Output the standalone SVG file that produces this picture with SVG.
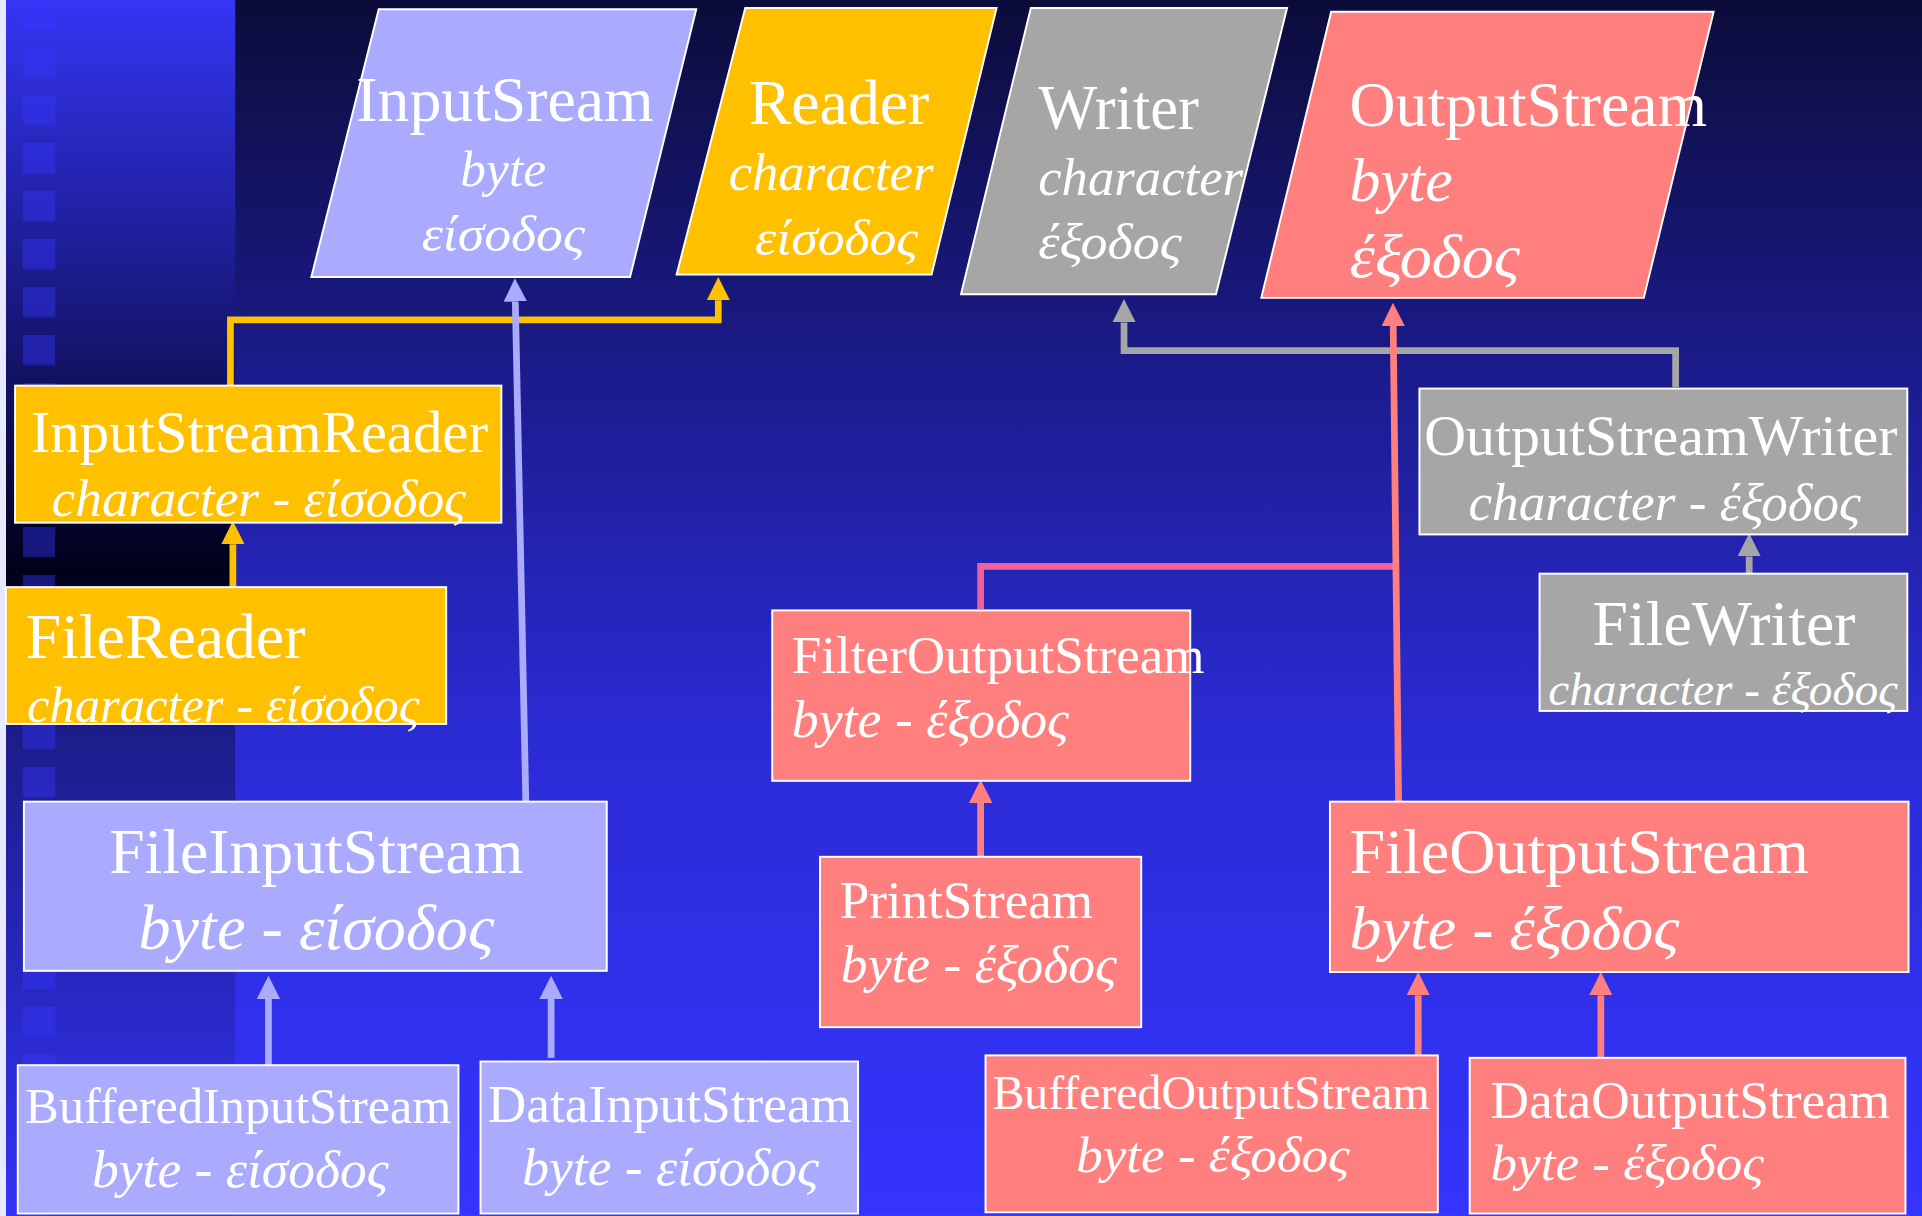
<svg xmlns="http://www.w3.org/2000/svg" width="1922" height="1216" viewBox="0 0 1922 1216">
<defs>
<linearGradient id="bgMain" x1="0" y1="0" x2="0" y2="1">
<stop offset="0" stop-color="#0c0c3a"/>
<stop offset="0.3" stop-color="#1b1b8a"/>
<stop offset="0.6" stop-color="#2b2bd4"/>
<stop offset="1" stop-color="#3434ff"/>
</linearGradient>
<linearGradient id="bgStrip" x1="0" y1="0" x2="0" y2="1">
<stop offset="0" stop-color="#3535f5"/>
<stop offset="0.47" stop-color="#00001a"/>
<stop offset="0.6" stop-color="#1c1c88"/>
<stop offset="1" stop-color="#3333f5"/>
</linearGradient>
<pattern id="sq" patternUnits="userSpaceOnUse" x="18.7" y="-0.8" width="26.3" height="39.16">
<rect x="0" y="0" width="26.3" height="24.5" fill="#3434ff" fill-opacity="0.42"/>
</pattern>
<marker id="aY" viewBox="0 0 19 19" refX="0" refY="9.5" markerWidth="19" markerHeight="19" markerUnits="userSpaceOnUse" orient="auto"><path d="M0,0 L19,9.5 L0,19 z" fill="#ffc000"/></marker>
<marker id="aL" viewBox="0 0 19 19" refX="0" refY="9.5" markerWidth="19" markerHeight="19" markerUnits="userSpaceOnUse" orient="auto"><path d="M0,0 L19,9.5 L0,19 z" fill="#aaaaff"/></marker>
<marker id="aG" viewBox="0 0 19 19" refX="0" refY="9.5" markerWidth="19" markerHeight="19" markerUnits="userSpaceOnUse" orient="auto"><path d="M0,0 L19,9.5 L0,19 z" fill="#a6a6a6"/></marker>
<marker id="aP" viewBox="0 0 19 19" refX="0" refY="9.5" markerWidth="19" markerHeight="19" markerUnits="userSpaceOnUse" orient="auto"><path d="M0,0 L19,9.5 L0,19 z" fill="#ff7f7f"/></marker>
</defs>
<style>
.t{font-family:"Liberation Serif","Times New Roman","DejaVu Serif",serif;fill:#ffffff}
.i{font-style:italic}
.m{text-anchor:middle}
.box{stroke:#ffffff;stroke-width:1.6}
.lav{fill:#aaaaff}
.yel{fill:#ffc000}
.gry{fill:#a6a6a6}
.pnk{fill:#ff7f7f}
.c{fill:none;stroke-width:5.5;stroke-linejoin:miter}
.cy{stroke:#ffc000}
.cl{stroke:#aaaaff}
.cg{stroke:#a6a6a6}
.cp{stroke:#ff7f7f}
.cm{stroke:#f0609a}
</style>
<g transform="scale(1.22577)">
<g id="background">
<rect x="0" y="0" width="1568" height="992" fill="url(#bgMain)"/>
<rect x="4.9" y="0" width="187" height="992" fill="url(#bgStrip)"/>
<rect x="18.7" y="0" width="26.3" height="992" fill="url(#sq)"/>
<rect x="0" y="0" width="4.9" height="992" fill="#e8e8ff"/>
</g>
<g id="connectors">
<path class="c cy" d="M188,315 L188,261 L586,261 L586,245" marker-end="url(#aY)"/>
<path class="c cy" d="M190,480 L190,444" marker-end="url(#aY)"/>
<path class="c cl" d="M429,655 L420.4,246" marker-end="url(#aL)"/>
<path class="c cl" d="M219,869 L219,815" marker-end="url(#aL)"/>
<path class="c cl" d="M449.6,863 L449.6,815" marker-end="url(#aL)"/>
<path class="c cg" d="M1367,316 L1367,286 L917,286 L917,263" marker-end="url(#aG)"/>
<path class="c cg" d="M1427,469 L1427,454" marker-end="url(#aG)"/>
<path class="c cm" d="M800,497 L800,462 L1138,462"/>
<path class="c cp" d="M1141,655 L1136.6,266" marker-end="url(#aP)"/>
<path class="c cp" d="M800,699 L800,655" marker-end="url(#aP)"/>
<path class="c cp" d="M1157,861 L1157,812" marker-end="url(#aP)"/>
<path class="c cp" d="M1306,863 L1306,812" marker-end="url(#aP)"/>
</g>
<g id="InputSream">
<polygon class="box lav" points="309,7.5 568,7.5 514,226 254,226"/>
<text class="t m" x="412" y="99" font-size="52">InputSream</text>
<text class="t i m" x="410.5" y="152" font-size="42">byte</text>
<text class="t i m" x="410.5" y="205" font-size="42" textLength="133" lengthAdjust="spacingAndGlyphs">είσοδος</text>
</g>
<g id="Reader">
<polygon class="box yel" points="608,6.5 813,6.5 760,224 552,224"/>
<text class="t m" x="684.5" y="101" font-size="52">Reader</text>
<text class="t i m" x="678" y="155" font-size="43">character</text>
<text class="t i m" x="682.5" y="208" font-size="42" textLength="133" lengthAdjust="spacingAndGlyphs">είσοδος</text>
</g>
<g id="Writer">
<polygon class="box gry" points="841,6.5 1050,6.5 992,240 784,240"/>
<text class="t" x="847" y="105" font-size="51">Writer</text>
<text class="t i" x="847" y="159" font-size="43">character</text>
<text class="t i" x="847" y="211" font-size="42" textLength="117" lengthAdjust="spacingAndGlyphs">έξοδος</text>
</g>
<g id="OutputStream">
<polygon class="box pnk" points="1086,9.5 1398,9.5 1341,243 1029,243"/>
<text class="t" x="1101" y="103" font-size="52">OutputStream</text>
<text class="t i" x="1101" y="164" font-size="50.5">byte</text>
<text class="t i" x="1101" y="226" font-size="50" textLength="139" lengthAdjust="spacingAndGlyphs">έξοδος</text>
</g>
<g id="InputStreamReader">
<rect class="box yel" x="12.3" y="314.6" width="396.7" height="111.8"/>
<text class="t" x="25" y="369" font-size="48">InputStreamReader</text>
<text class="t i" x="42" y="421" font-size="43" textLength="338" lengthAdjust="spacingAndGlyphs">character - είσοδος</text>
</g>
<g id="FileReader">
<rect class="box yel" x="4.8" y="479" width="359.2" height="111.6"/>
<text class="t" x="21" y="537" font-size="52">FileReader</text>
<text class="t i" x="22" y="589" font-size="40.5" textLength="320" lengthAdjust="spacingAndGlyphs">character - είσοδος</text>
</g>
<g id="FileInputStream">
<rect class="box lav" x="19.5" y="654" width="475.5" height="138"/>
<text class="t m" x="258" y="712" font-size="52">FileInputStream</text>
<text class="t i m" x="258" y="774" font-size="51" textLength="290" lengthAdjust="spacingAndGlyphs">byte - είσοδος</text>
</g>
<g id="BufferedInputStream">
<rect class="box lav" x="14.5" y="869" width="359.5" height="121"/>
<text class="t m" x="194.5" y="916" font-size="41">BufferedInputStream</text>
<text class="t i m" x="196" y="968" font-size="43" textLength="242" lengthAdjust="spacingAndGlyphs">byte - είσοδος</text>
</g>
<g id="DataInputStream">
<rect class="box lav" x="392" y="866" width="308" height="124"/>
<text class="t" x="398" y="915" font-size="43.5">DataInputStream</text>
<text class="t i" x="426" y="967" font-size="43" textLength="242" lengthAdjust="spacingAndGlyphs">byte - είσοδος</text>
</g>
<g id="FilterOutputStream">
<rect class="box pnk" x="630" y="498" width="341" height="139"/>
<text class="t" x="646" y="549" font-size="43.3">FilterOutputStream</text>
<text class="t i" x="646" y="601" font-size="42.5" textLength="226" lengthAdjust="spacingAndGlyphs">byte - έξοδος</text>
</g>
<g id="PrintStream">
<rect class="box pnk" x="669" y="699" width="262" height="139"/>
<text class="t" x="685" y="749" font-size="43.3">PrintStream</text>
<text class="t i" x="686" y="801" font-size="42.5" textLength="225" lengthAdjust="spacingAndGlyphs">byte - έξοδος</text>
</g>
<g id="FileOutputStream">
<rect class="box pnk" x="1085" y="654" width="472" height="139"/>
<text class="t" x="1101" y="712" font-size="52.3">FileOutputStream</text>
<text class="t i" x="1101" y="774" font-size="50.6" textLength="269" lengthAdjust="spacingAndGlyphs">byte - έξοδος</text>
</g>
<g id="BufferedOutputStream">
<rect class="box pnk" x="804" y="861" width="369" height="128"/>
<text class="t m" x="988" y="905" font-size="39">BufferedOutputStream</text>
<text class="t i m" x="989.5" y="956" font-size="42" textLength="223" lengthAdjust="spacingAndGlyphs">byte - έξοδος</text>
</g>
<g id="DataOutputStream">
<rect class="box pnk" x="1199" y="863" width="355.5" height="127"/>
<text class="t" x="1216" y="912" font-size="43.5">DataOutputStream</text>
<text class="t i" x="1216" y="963" font-size="42" textLength="223" lengthAdjust="spacingAndGlyphs">byte - έξοδος</text>
</g>
<g id="OutputStreamWriter">
<rect class="box gry" x="1158" y="317" width="398" height="119"/>
<text class="t" x="1162" y="371" font-size="47.2">OutputStreamWriter</text>
<text class="t i m" x="1358" y="424" font-size="42.4" textLength="320" lengthAdjust="spacingAndGlyphs">character - έξοδος</text>
</g>
<g id="FileWriter">
<rect class="box gry" x="1256" y="468" width="300" height="112"/>
<text class="t m" x="1406.5" y="526" font-size="52">FileWriter</text>
<text class="t i" x="1263" y="575" font-size="37.8" textLength="285" lengthAdjust="spacingAndGlyphs">character - έξοδος</text>
</g>
</g>
</svg>
